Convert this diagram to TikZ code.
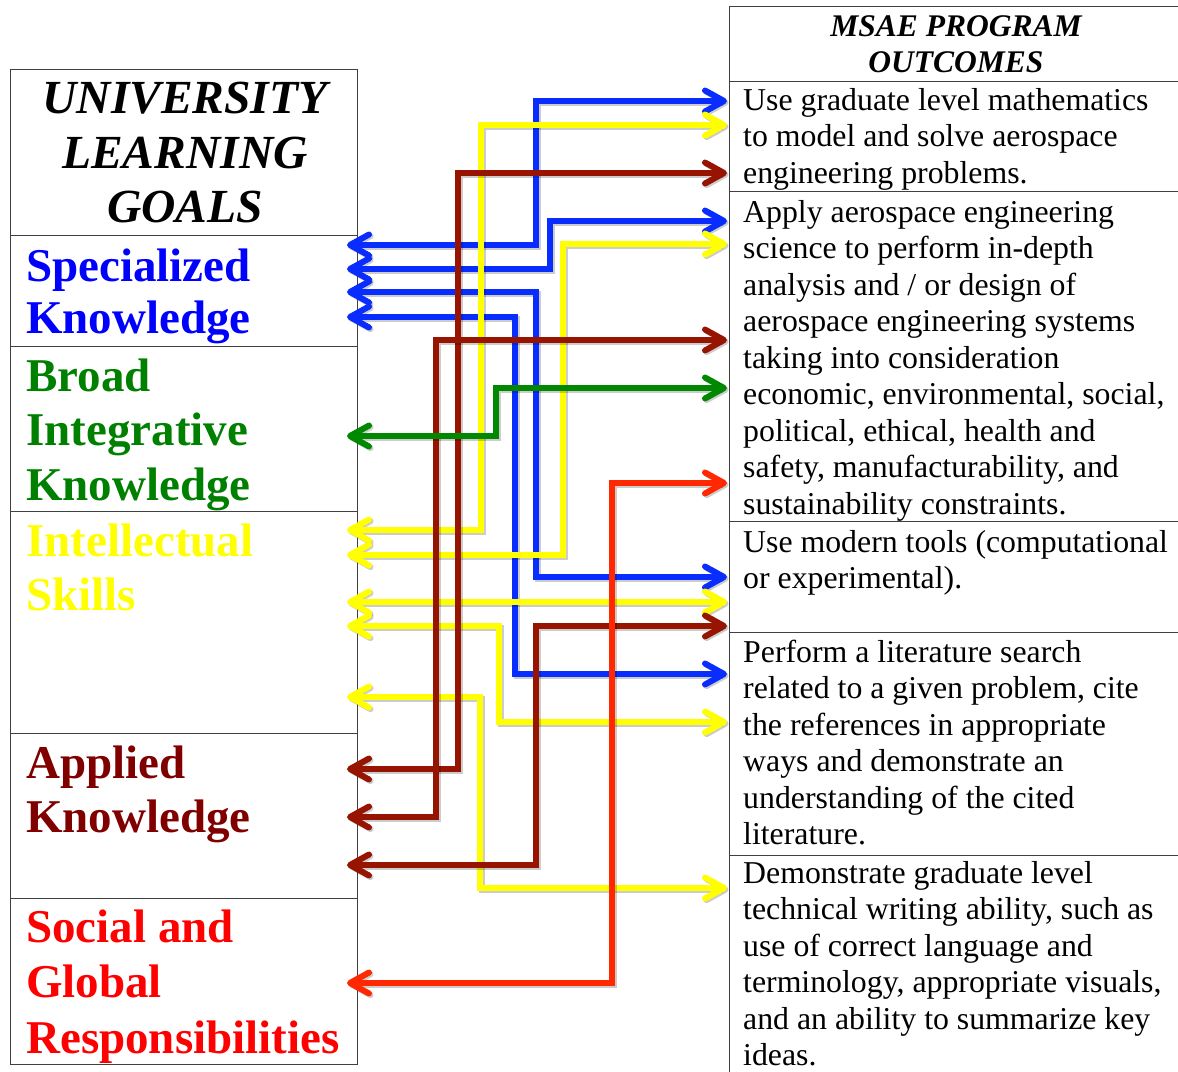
\documentclass[tikz,border=0pt]{standalone}
\usepackage{fontspec}
\setmainfont{Liberation Serif}
\usetikzlibrary{arrows.meta}
\definecolor{ablue}{RGB}{10,45,255}
\definecolor{ayel}{RGB}{255,255,0}
\definecolor{adred}{RGB}{150,20,0}
\definecolor{agreen}{RGB}{0,136,0}
\definecolor{ared}{RGB}{255,40,0}
\definecolor{tblue}{RGB}{0,0,255}
\definecolor{tgreen}{RGB}{0,128,0}
\definecolor{tyel}{RGB}{255,255,0}
\definecolor{tmar}{RGB}{128,0,0}
\definecolor{tred}{RGB}{255,0,0}
\newcommand\connect[2]{\draw[cshadow] #2; \draw[conn,draw=#1] #2;}
\begin{document}
\begin{tikzpicture}[x=1pt,y=-1pt,
 cell/.style={draw=black!75, line width=1.3pt, inner sep=0pt, anchor=north west},
 lt/.style={anchor=base west, inner sep=0pt, font=\fontsize{47}{55}\selectfont\bfseries},
 hd/.style={anchor=base, inner sep=0pt, font=\fontsize{47.5}{55}\selectfont\bfseries\itshape},
 rt/.style={anchor=base west, inner sep=0pt, font=\fontsize{31.8}{36.5}\selectfont},
 rh/.style={anchor=base, inner sep=0pt, font=\fontsize{31.5}{36}\selectfont\bfseries\itshape},
 conn/.style={line width=6pt, line join=miter,
   {Straight Barb[length=19pt,width=21pt,round]}-{Straight Barb[length=19pt,width=21pt,round]}},
 cshadow/.style={conn, draw=black, opacity=0.2, transform canvas={shift={(1.6pt,-1.6pt)}}},
]
\useasboundingbox (0,0) rectangle (1178,1071);
% left table cells
\node[cell, minimum width=347pt, minimum height=166pt] (ulg) at (10,69) {};
\node[cell, minimum width=347pt, minimum height=111pt] (spec) at (10,235) {};
\node[cell, minimum width=347pt, minimum height=165pt] (broad) at (10,346) {};
\node[cell, minimum width=347pt, minimum height=222pt] (intel) at (10,511) {};
\node[cell, minimum width=347pt, minimum height=165pt] (appl) at (10,733) {};
\node[cell, minimum width=347pt, minimum height=166pt] (soc) at (10,898) {};
% right table cells
\node[cell, minimum width=455pt, minimum height=75pt] (msae) at (729,6) {};
\node[cell, minimum width=455pt, minimum height=110pt] (po1) at (729,81) {};
\node[cell, minimum width=455pt, minimum height=330pt] (po2) at (729,191) {};
\node[cell, minimum width=455pt, minimum height=111pt] (po3) at (729,521) {};
\node[cell, minimum width=455pt, minimum height=223pt] (po4) at (729,632) {};
\node[cell, minimum width=455pt, minimum height=230pt] (po5) at (729,855) {};
% left texts
\node[hd] (h1) at (185,113) {UNIVERSITY};
\node[hd] (h2) at (185,168) {LEARNING};
\node[hd] (h3) at (185,222) {GOALS};
\node[lt, text=tblue] (s1) at (26,281) {Specialized};
\node[lt, text=tblue] (s2) at (26,333) {Knowledge};
\node[lt, text=tgreen] (b1) at (26,391) {Broad};
\node[lt, text=tgreen] (b2) at (26,445) {Integrative};
\node[lt, text=tgreen] (b3) at (26,500) {Knowledge};
\node[lt, text=tyel] (i1) at (26,556) {Intellectual};
\node[lt, text=tyel] (i2) at (26,610) {Skills};
\node[lt, text=tmar] (a1) at (26,778) {Applied};
\node[lt, text=tmar] (a2) at (26,832) {Knowledge};
\node[lt, text=tred] (g1) at (26,942) {Social and};
\node[lt, text=tred] (g2) at (26,997) {Global};
\node[lt, text=tred] (g3) at (26,1053) {Responsibilities};
% right texts
\node[rh] (m1) at (956,36) {MSAE PROGRAM};
\node[rh] (m2) at (956,72) {OUTCOMES};
\foreach \t [count=\i from 0] in {Use graduate level mathematics, to model and solve aerospace, engineering problems.}
  \node[rt] (pa-\i) at (743,110+36.5*\i) {\t};
\foreach \t [count=\i from 0] in {Apply aerospace engineering, science to perform in-depth, analysis and / or design of, aerospace engineering systems, taking into consideration, {economic, environmental, social,}, {political, ethical, health and}, {safety, manufacturability, and}, sustainability constraints.}
  \node[rt] (pb-\i) at (743,222+36.5*\i) {\t};
\foreach \t [count=\i from 0] in {Use modern tools (computational, or experimental).}
  \node[rt] (pc-\i) at (743,552+36.5*\i) {\t};
\foreach \t [count=\i from 0] in {Perform a literature search, {related to a given problem, cite}, the references in appropriate, ways and demonstrate an, understanding of the cited, literature.}
  \node[rt] (pd-\i) at (743,662+36.5*\i) {\t};
\foreach \t [count=\i from 0] in {Demonstrate graduate level, {technical writing ability, such as}, use of correct language and, {terminology, appropriate visuals,}, and an ability to summarize key, ideas.}
  \node[rt] (pe-\i) at (743,883+36.5*\i) {\t};
% connector end points
\coordinate (Lb1) at (347,245); \coordinate (Rb1) at (727,101);
\coordinate (Lb2) at (347,269); \coordinate (Rb2) at (727,221);
\coordinate (Lb3) at (347,292); \coordinate (Rb3) at (727,577);
\coordinate (Lb4) at (347,317); \coordinate (Rb4) at (727,674);
\coordinate (Ly1) at (347,530); \coordinate (Ry1) at (727,125);
\coordinate (Ly2) at (347,555); \coordinate (Ry2) at (727,244);
\coordinate (Ly3) at (347,602); \coordinate (Ry3) at (727,602);
\coordinate (Ly4) at (347,626); \coordinate (Ry4) at (727,722);
\coordinate (Ly5) at (347,697); \coordinate (Ry5) at (727,888);
\coordinate (Ld1) at (347,769); \coordinate (Rd1) at (727,173);
\coordinate (Ld2) at (347,817); \coordinate (Rd2) at (727,340);
\coordinate (Ld3) at (347,865); \coordinate (Rd3) at (727,626);
\coordinate (Lg) at (347,436); \coordinate (Rg) at (727,388);
\coordinate (Lr) at (347,983); \coordinate (Rr) at (727,483);
% connectors
\connect{ablue}{(Lb1) -| (536,101) -- (Rb1)}
\connect{ablue}{(Lb2) -| (550,221) -- (Rb2)}
\connect{ablue}{(Lb3) -| (536,577) -- (Rb3)}
\connect{ablue}{(Lb4) -| (515,674) -- (Rb4)}
\connect{ayel}{(Ly1) -| (481,125) -- (Ry1)}
\connect{ayel}{(Ly2) -| (563,244) -- (Ry2)}
\connect{ayel}{(Ly3) -- (Ry3)}
\connect{ayel}{(Ly4) -| (499,722) -- (Ry4)}
\connect{ayel}{(Ly5) -| (480,888) -- (Ry5)}
\connect{adred}{(Ld1) -| (458,173) -- (Rd1)}
\connect{adred}{(Ld2) -| (436,340) -- (Rd2)}
\connect{adred}{(Ld3) -| (536,626) -- (Rd3)}
\connect{agreen}{(Lg) -| (496,388) -- (Rg)}
\connect{ared}{(Lr) -| (612,483) -- (Rr)}
\end{tikzpicture}
\end{document}
